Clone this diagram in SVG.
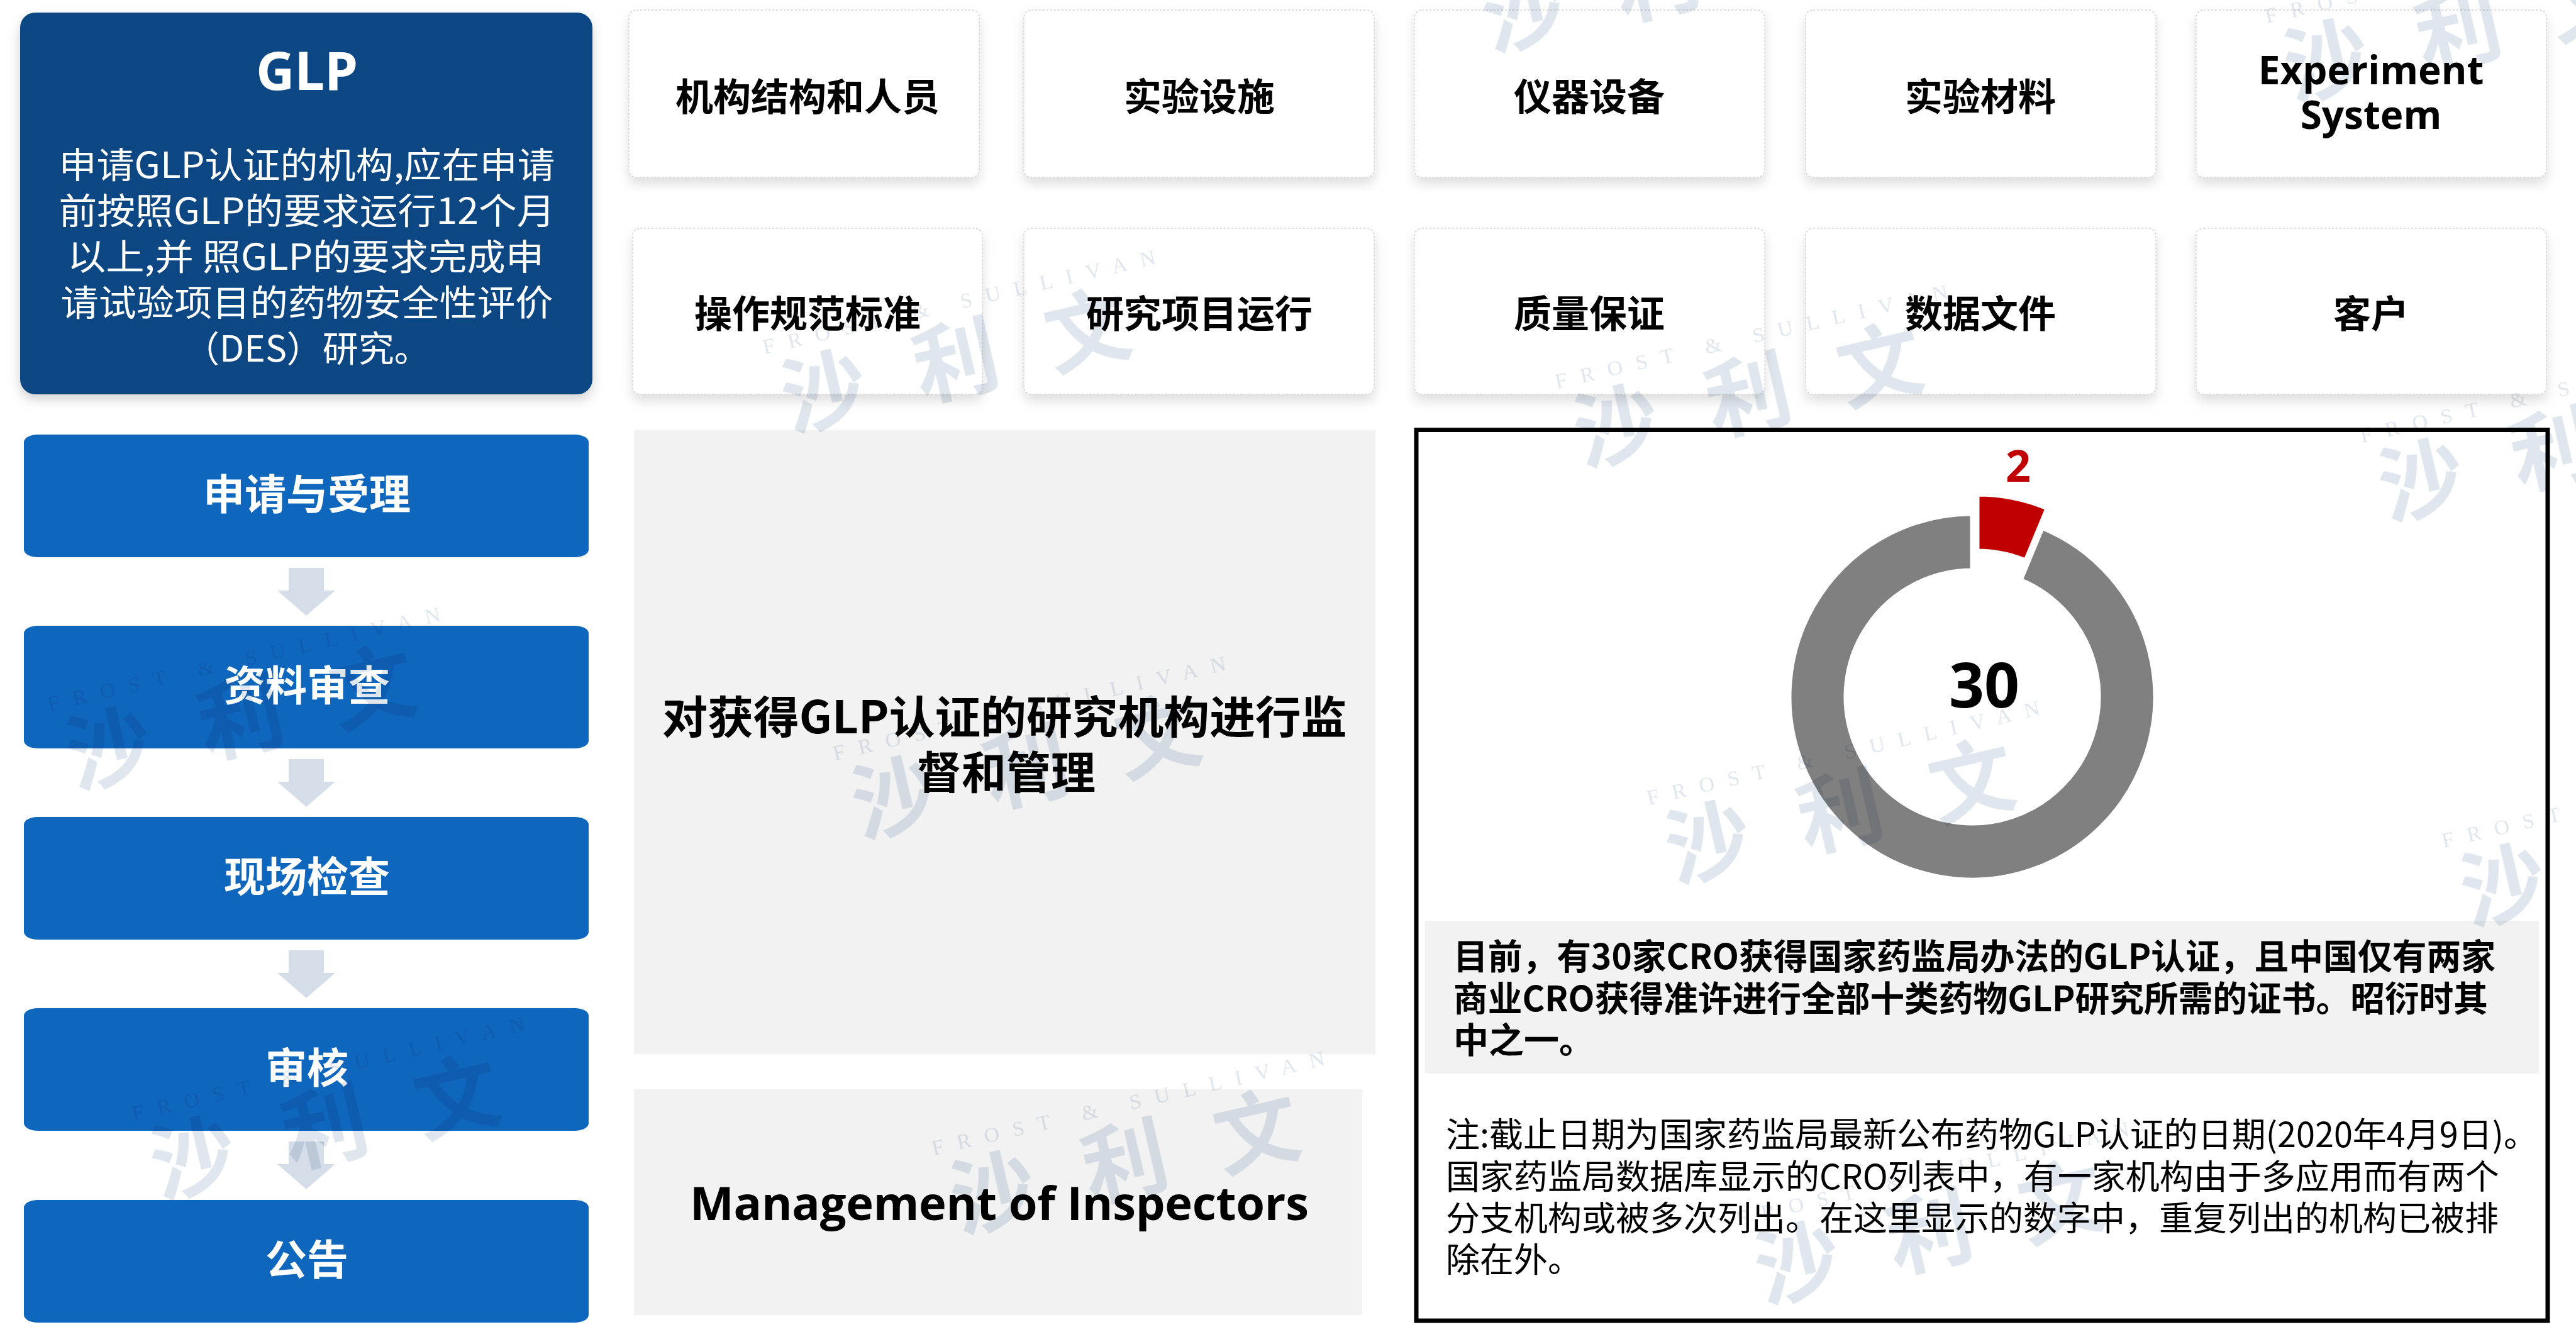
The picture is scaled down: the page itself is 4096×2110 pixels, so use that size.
<svg xmlns="http://www.w3.org/2000/svg" xmlns:xlink="http://www.w3.org/1999/xlink" width="4096" height="2110" viewBox="0 0 4096 2110">
<style>
.card{fill:#fff;stroke:#d2d2d2;stroke-width:1.5;stroke-dasharray:3 3;filter:url(#sh)}
.step{fill:#0F66BD}
.arrow{fill:#D5DEE8}
.panel{fill:#F2F2F2}
.tc{font-family:"Noto Sans CJK SC",sans-serif;font-weight:700;font-size:60px;fill:#000;text-anchor:middle}
.te{font-family:"Open Sans","Noto Sans",sans-serif;font-weight:700;font-size:62px;fill:#000;text-anchor:middle}
.ts{font-family:"Noto Sans CJK SC",sans-serif;font-weight:700;font-size:66px;fill:#fff;text-anchor:middle}
.tg{font-family:"Noto Sans CJK SC",sans-serif;font-size:57px;fill:#fff;text-anchor:middle}
.tb{font-family:"Noto Sans CJK SC",sans-serif;font-weight:700;font-size:56px;fill:#000}
.tn{font-family:"Noto Sans CJK SC",sans-serif;font-size:54px;fill:#000}
.wm{fill:#E0E6EE}
.wmf{font-family:"Liberation Serif",serif;font-size:34px;text-anchor:middle}
.wmc{font-family:"Noto Sans CJK SC",sans-serif;font-weight:700;font-size:135px;text-anchor:middle}
</style>
<defs>
<filter id="sh" x="-10%" y="-10%" width="120%" height="140%">
<feDropShadow dx="0" dy="10" stdDeviation="9" flood-color="#000" flood-opacity="0.13"/>
</filter>
<filter id="sh2" x="-10%" y="-10%" width="120%" height="130%">
<feDropShadow dx="0" dy="8" stdDeviation="9" flood-color="#000" flood-opacity="0.18"/>
</filter>
<g id="wm" class="wm">
<text class="wmf" x="26" y="-80" textLength="640" lengthAdjust="spacing">FROST &amp; SULLIVAN</text>
<text class="wmc" x="-215" y="48">沙</text>
<text class="wmc" x="0" y="48">利</text>
<text class="wmc" x="215" y="48">文</text>
</g>
</defs>
<rect x="0" y="0" width="4096" height="2110" fill="#fff"/>

<g id="card-1"><rect class="card" x="1000" y="16" width="557" height="266" rx="12"/><text class="tc" x="1284" y="176">机构结构和人员</text></g>
<g id="card-2"><rect class="card" x="1628" y="16" width="557" height="266" rx="12"/><text class="tc" x="1907" y="176">实验设施</text></g>
<g id="card-3"><rect class="card" x="2249" y="16" width="557" height="266" rx="12"/><text class="tc" x="2527" y="176">仪器设备</text></g>
<g id="card-4"><rect class="card" x="2871" y="16" width="557" height="266" rx="12"/><text class="tc" x="3149" y="176">实验材料</text></g>
<g id="card-5"><rect class="card" x="3492" y="16" width="557" height="266" rx="12"/><text class="te"><tspan x="3770" y="134">Experiment</tspan><tspan x="3770" y="205">System</tspan></text></g>
<g id="card-6"><rect class="card" x="1006" y="363" width="556" height="264" rx="12"/><text class="tc" x="1284" y="521">操作规范标准</text></g>
<g id="card-7"><rect class="card" x="1628" y="363" width="557" height="264" rx="12"/><text class="tc" x="1907" y="521">研究项目运行</text></g>
<g id="card-8"><rect class="card" x="2249" y="363" width="557" height="264" rx="12"/><text class="tc" x="2527" y="521">质量保证</text></g>
<g id="card-9"><rect class="card" x="2871" y="363" width="557" height="264" rx="12"/><text class="tc" x="3149" y="521">数据文件</text></g>
<g id="card-10"><rect class="card" x="3492" y="363" width="557" height="264" rx="12"/><text class="tc" x="3770" y="521">客户</text></g>

<g id="step-1"><rect class="step" x="38" y="691" width="898" height="195" rx="22" ry="12"/><text class="ts" x="488" y="810">申请与受理</text></g>
<g id="step-2"><rect class="step" x="38" y="995" width="898" height="195" rx="22" ry="12"/><text class="ts" x="488" y="1114">资料审查</text></g>
<g id="step-3"><rect class="step" x="38" y="1299" width="898" height="195" rx="22" ry="12"/><text class="ts" x="488" y="1418">现场检查</text></g>
<g id="step-4"><rect class="step" x="38" y="1603" width="898" height="195" rx="22" ry="12"/><text class="ts" x="488" y="1722">审核</text></g>
<g id="step-5"><rect class="step" x="38" y="1908" width="898" height="195" rx="22" ry="12"/><text class="ts" x="488" y="2027">公告</text></g>

<g id="connectors">
<path class="arrow" d="M459 903H515V939H533L487 979L441 939H459Z"/>
<path class="arrow" d="M459 1207H515V1243H533L487 1283L441 1243H459Z"/>
<path class="arrow" d="M459 1511H515V1547H533L487 1587L441 1547H459Z"/>
<path class="arrow" d="M459 1815H515V1851H533L487 1891L441 1851H459Z"/>
</g>

<g id="panel-supervise"><rect class="panel" x="1008" y="684" width="1179" height="992"/>
<text class="tc" style="font-size:71px"><tspan x="1597" y="1166" textLength="1089" lengthAdjust="spacingAndGlyphs">对获得GLP认证的研究机构进行监</tspan><tspan x="1600" y="1254">督和管理</tspan></text></g>
<g id="panel-inspectors"><rect class="panel" x="1008" y="1732" width="1158" height="359"/>
<text class="te" x="1589" y="1940" style="font-size:74px" textLength="984" lengthAdjust="spacing">Management of Inspectors</text></g>

<g id="chart-box">
<rect x="2252" y="683.5" width="1799" height="1416.5" fill="none" stroke="#000" stroke-width="7"/>
<path d="M3247.36 839.15A291 291 0 1 1 3136 817L3136 907A201 201 0 1 0 3212.92 922.3Z" fill="#808080" stroke="#fff" stroke-width="7" stroke-linejoin="round"/>
<path d="M3144 786A291 291 0 0 1 3255.36 808.15L3220.92 891.3A201 201 0 0 0 3144 876Z" fill="#C00000" stroke="#fff" stroke-width="7" stroke-linejoin="round"/>
<text x="3209" y="766" style="font-family:'Noto Sans','Open Sans',sans-serif;font-weight:700;font-size:70px;fill:#C00000;text-anchor:middle">2</text>
<text x="3155" y="1125" style="font-family:'Noto Sans','Open Sans',sans-serif;font-weight:700;font-size:98px;fill:#000;text-anchor:middle">30</text>
<rect x="2266" y="1464" width="1771" height="243" fill="#F2F2F2"/>
<text class="tb"><tspan x="2311" y="1541" textLength="1657" lengthAdjust="spacingAndGlyphs">目前，有30家CRO获得国家药监局办法的GLP认证，且中国仅有两家</tspan><tspan x="2311" y="1608" textLength="1645" lengthAdjust="spacingAndGlyphs">商业CRO获得准许进行全部十类药物GLP研究所需的证书。昭衍时其</tspan><tspan x="2311" y="1674">中之一。</tspan></text>
<text class="tn"><tspan x="2299" y="1824">注:截止日期为国家药监局最新公布药物GLP认证的日期(2020年4月9日)。</tspan><tspan x="2299" y="1891">国家药监局数据库显示的CRO列表中，有一家机构由于多应用而有两个</tspan><tspan x="2299" y="1957">分支机构或被多次列出。在这里显示的数字中，重复列出的机构已被排</tspan><tspan x="2299" y="2023">除在外。</tspan></text>
</g>

<g id="watermarks" style="mix-blend-mode:multiply">
<use href="#wm" transform="translate(2634,-30) rotate(-13)"/>
<use href="#wm" transform="translate(3909,49) rotate(-13)"/>
<use href="#wm" transform="translate(1520,575) rotate(-13)"/>
<use href="#wm" transform="translate(2780,630) rotate(-13)"/>
<use href="#wm" transform="translate(4060,716) rotate(-13)"/>
<use href="#wm" transform="translate(383,1143) rotate(-13)"/>
<use href="#wm" transform="translate(1632,1221) rotate(-13)"/>
<use href="#wm" transform="translate(2926,1292) rotate(-13)"/>
<use href="#wm" transform="translate(4190,1360) rotate(-13)"/>
<use href="#wm" transform="translate(517,1794) rotate(-13)"/>
<use href="#wm" transform="translate(1789,1849) rotate(-13)"/>
<use href="#wm" transform="translate(3068,1961) rotate(-13)"/>
</g>

<g id="glp">
<rect x="32" y="20" width="910" height="607" rx="24" fill="#0C4783" filter="url(#sh2)"/>
<text x="488" y="143" style="font-family:'Noto Sans','Open Sans',sans-serif;font-weight:700;font-size:85px;fill:#fff;text-anchor:middle">GLP</text>
<text class="tg"><tspan x="488" y="283" textLength="789" lengthAdjust="spacingAndGlyphs">申请GLP认证的机构,应在申请</tspan><tspan x="488" y="356" textLength="789" lengthAdjust="spacingAndGlyphs">前按照GLP的要求运行12个月</tspan><tspan x="486" y="429" textLength="758" lengthAdjust="spacingAndGlyphs">以上,并 照GLP的要求完成申</tspan><tspan x="488" y="502" textLength="783" lengthAdjust="spacingAndGlyphs">请试验项目的药物安全性评价</tspan><tspan x="488" y="575">（DES）研究。</tspan></text>
</g>
</svg>
